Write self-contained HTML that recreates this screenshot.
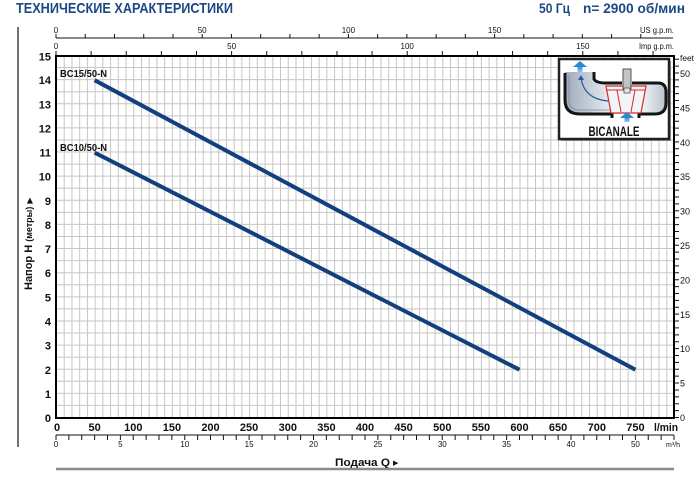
<!DOCTYPE html>
<html><head><meta charset="utf-8"><style>
html,body{margin:0;padding:0;background:#fff;}
svg{display:block;}
text{font-family:"Liberation Sans","DejaVu Sans",sans-serif;}
</style></head><body>
<svg width="700" height="478" viewBox="0 0 700 478" xmlns="http://www.w3.org/2000/svg">
<rect width="700" height="478" fill="#fff"/>
<!-- header -->
<text x="16" y="13" font-size="15" font-weight="bold" fill="#1c4786" textLength="217" lengthAdjust="spacingAndGlyphs">ТЕХНИЧЕСКИЕ ХАРАКТЕРИСТИКИ</text>
<text x="539" y="13" font-size="14" font-weight="bold" fill="#1c4786" textLength="31" lengthAdjust="spacingAndGlyphs">50 Гц</text>
<text x="583" y="13" font-size="14" font-weight="bold" fill="#1c4786" textLength="102" lengthAdjust="spacingAndGlyphs">n= 2900 об/мин</text>

<!-- left vertical line -->
<line x1="18" y1="27" x2="18" y2="447" stroke="#444" stroke-width="1.5"/>

<!-- grid -->
<line x1="56" y1="237" x2="674" y2="237" stroke="#c6c6c6" stroke-width="362" stroke-dasharray="1 6.725"/>
<line x1="365" y1="418" x2="365" y2="56" stroke="#c6c6c6" stroke-width="618" stroke-dasharray="1 11.067"/>

<!-- top US axis -->
<line x1="56" y1="38" x2="673" y2="38" stroke="#111" stroke-width="1"/>
<line x1="55.5" y1="36" x2="642" y2="36" stroke="#111" stroke-width="4" stroke-dasharray="1 28.24"/>
<g font-size="8" fill="#111" text-anchor="middle">
<text x="56" y="33">0</text><text x="202.2" y="33">50</text><text x="348.4" y="33">100</text><text x="494.6" y="33">150</text>
<text x="56" y="49">0</text><text x="231.6" y="49">50</text><text x="407.2" y="49">100</text><text x="582.8" y="49">150</text>
</g>
<text x="640" y="33" font-size="8" fill="#111" textLength="34" lengthAdjust="spacingAndGlyphs">US g.p.m.</text>
<text x="639" y="49" font-size="8" fill="#111" textLength="35" lengthAdjust="spacingAndGlyphs">Imp g.p.m.</text>
<!-- Imp ticks -->
<line x1="55.5" y1="53" x2="655" y2="53" stroke="#111" stroke-width="4" stroke-dasharray="1 34.12"/>

<!-- plot border -->
<rect x="56" y="56" width="618" height="362" fill="none" stroke="#000" stroke-width="2"/>

<!-- feet axis -->
<line x1="676.5" y1="418" x2="676.5" y2="56" stroke="#111" stroke-width="5" stroke-dasharray="1 5.89"/>
<text x="680" y="61" font-size="8" fill="#111" textLength="14" lengthAdjust="spacingAndGlyphs">feet</text>
<g font-size="9" fill="#111">
<text x="680" y="421">0</text><text x="680" y="386.5">5</text><text x="680" y="352">10</text><text x="680" y="318">15</text>
<text x="680" y="283.5">20</text><text x="680" y="249">25</text><text x="680" y="214.5">30</text><text x="680" y="180">35</text>
<text x="680" y="146">40</text><text x="680" y="111.5">45</text><text x="680" y="77">50</text>
</g>

<!-- y labels -->
<g font-size="11" font-weight="bold" fill="#111" text-anchor="end">
<text x="51" y="422">0</text><text x="51" y="398">1</text><text x="51" y="374">2</text><text x="51" y="349.6">3</text>
<text x="51" y="325.5">4</text><text x="51" y="301.4">5</text><text x="51" y="277.2">6</text><text x="51" y="253.1">7</text>
<text x="51" y="229">8</text><text x="51" y="204.8">9</text><text x="51" y="180.7">10</text><text x="51" y="156.6">11</text>
<text x="51" y="132.5">12</text><text x="51" y="108.3">13</text><text x="51" y="84.2">14</text><text x="51" y="60.5">15</text>
</g>
<text transform="translate(32,290) rotate(-90)" font-size="11" font-weight="bold" fill="#111">Напор H <tspan font-size="9">(метры)</tspan> <tspan font-size="8">▶</tspan></text>

<!-- x labels l/min -->
<g font-size="11" font-weight="bold" fill="#111" text-anchor="middle">
<text x="57" y="431">0</text><text x="94.6" y="431">50</text><text x="133.3" y="431">100</text><text x="171.9" y="431">150</text>
<text x="210.5" y="431">200</text><text x="249.1" y="431">250</text><text x="287.8" y="431">300</text><text x="326.4" y="431">350</text>
<text x="365" y="431">400</text><text x="403.6" y="431">450</text><text x="442.3" y="431">500</text><text x="480.9" y="431">550</text>
<text x="519.5" y="431">600</text><text x="558.1" y="431">650</text><text x="596.8" y="431">700</text><text x="635.4" y="431">750</text>
</g>
<text x="654" y="431" font-size="11" font-weight="bold" fill="#111" textLength="24" lengthAdjust="spacingAndGlyphs">l/min</text>

<!-- m3/h axis -->
<line x1="56" y1="435" x2="674" y2="435" stroke="#111" stroke-width="1"/>
<line x1="55.5" y1="437.5" x2="675" y2="437.5" stroke="#111" stroke-width="5" stroke-dasharray="1 11.875"/>
<g font-size="8" fill="#111" text-anchor="middle">
<text x="56" y="447">0</text><text x="120.4" y="447">5</text><text x="184.8" y="447">10</text><text x="249.1" y="447">15</text>
<text x="313.5" y="447">20</text><text x="377.9" y="447">25</text><text x="442.3" y="447">30</text><text x="506.6" y="447">35</text>
<text x="571" y="447">40</text><text x="635.4" y="447">50</text>
</g>
<text x="666" y="447" font-size="7" fill="#111" textLength="14" lengthAdjust="spacingAndGlyphs">m³/h</text>

<!-- bottom -->
<text x="335" y="466" font-size="11" font-weight="bold" fill="#111" textLength="55" lengthAdjust="spacingAndGlyphs">Подача Q</text>
<text x="393" y="465" font-size="7" fill="#111">▶</text>
<line x1="56" y1="469" x2="674" y2="469" stroke="#8a8a8a" stroke-width="2.5"/>

<!-- curves -->
<line x1="94.6" y1="80.2" x2="635.4" y2="369.7" stroke="#123f7d" stroke-width="4"/>
<line x1="94.6" y1="152.6" x2="519.5" y2="369.7" stroke="#123f7d" stroke-width="4"/>
<text x="60" y="77" font-size="10.5" font-weight="bold" fill="#111" textLength="47" lengthAdjust="spacingAndGlyphs">BC15/50-N</text>
<text x="60" y="151" font-size="10.5" font-weight="bold" fill="#111" textLength="47" lengthAdjust="spacingAndGlyphs">BC10/50-N</text>

<!-- inset -->
<rect x="561" y="61" width="110" height="80" fill="#9a9a9a"/>
<rect x="559" y="59" width="110" height="80" fill="#fff" stroke="#222" stroke-width="2.5"/>
<defs>
<linearGradient id="g1" x1="0" y1="0" x2="1" y2="0">
<stop offset="0" stop-color="#9eabba"/><stop offset="0.45" stop-color="#e8edf2"/><stop offset="0.75" stop-color="#f4f6f8"/><stop offset="1" stop-color="#b8c2cc"/>
</linearGradient>
<linearGradient id="g2" x1="0" y1="0" x2="0" y2="1">
<stop offset="0" stop-color="#2f86d0"/><stop offset="1" stop-color="#8cc8f0"/>
</linearGradient>
</defs>
<path d="M565,72 L594,72 L594,79 Q596,83 606,83 L659,83 Q666,83 666,92 L666,103 Q666,114 655,114 L580,114 Q565,114 565,100 Z" fill="url(#g1)"/>
<path d="M565,73 L565,100 Q565,114 580,114 L612,114 L612,118" fill="none" stroke="#151515" stroke-width="3"/>
<path d="M639,118 L639,114 L655,114 Q666,114 666,103 L666,92 Q666,83 658,83 L632,83" fill="none" stroke="#151515" stroke-width="3"/>
<path d="M594,72 L594,79 Q596,83 606,83 L622,83" fill="none" stroke="#151515" stroke-width="3"/>
<path d="M569,75 L569,100 Q569,110 580,110 L610,110" fill="none" stroke="#7d8894" stroke-width="0.8"/>
<polygon points="606,86 646,86 641,113 611,113" fill="#f2f5f8" stroke="#d42a2a" stroke-width="1.2"/>
<line x1="606" y1="90" x2="646" y2="90" stroke="#d42a2a" stroke-width="1"/>
<line x1="617" y1="90" x2="621" y2="112" stroke="#d42a2a" stroke-width="1"/>
<line x1="635" y1="90" x2="631" y2="112" stroke="#d42a2a" stroke-width="1"/>
<rect x="623" y="69" width="8" height="20" fill="#c4c4c4" stroke="#555" stroke-width="1"/>
<rect x="624" y="88" width="6" height="5" fill="#e6e6e6" stroke="#555" stroke-width="0.8"/>
<path d="M608,101 Q584,99 581,78" fill="none" stroke="#2a5aa0" stroke-width="1.2"/>
<polygon points="578,80 584,80 581,75" fill="#2a5aa0"/>
<rect x="577.5" y="66" width="5" height="6" fill="url(#g2)"/>
<polygon points="573,67 587,67 580,61" fill="#2f86d0"/>
<rect x="624.5" y="117" width="5" height="5" fill="url(#g2)"/>
<polygon points="620,118 634,118 627,112" fill="#2f86d0"/>
<text x="614" y="136" font-size="14" font-weight="bold" fill="#111" text-anchor="middle" textLength="51" lengthAdjust="spacingAndGlyphs">BICANALE</text>
</svg>
</body></html>
